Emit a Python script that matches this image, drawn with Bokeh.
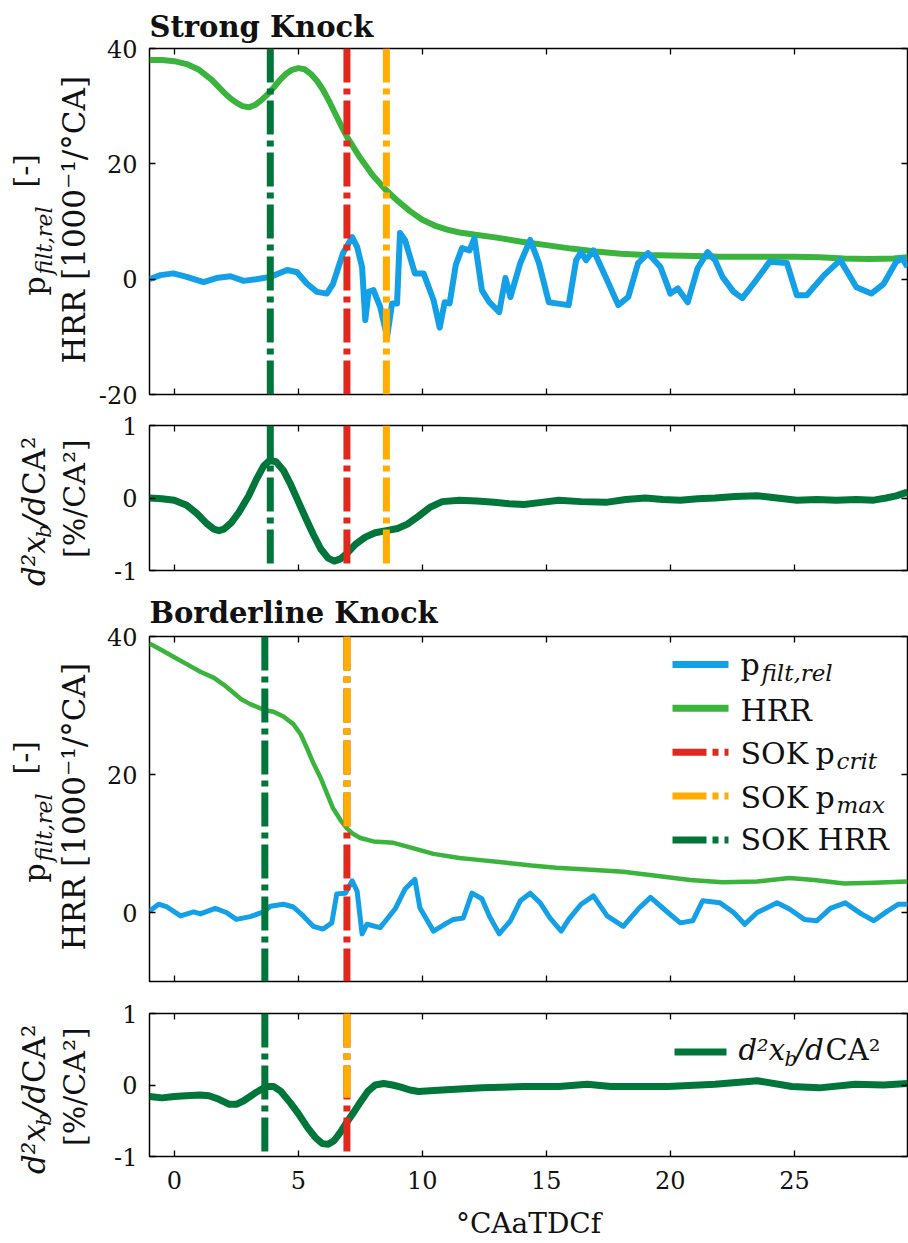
from math import pi
from bokeh.plotting import figure
from bokeh.models import Range1d, LinearAxis, FixedTicker, Label, Title
from bokeh.layouts import column, row
from bokeh.embed import file_html
from bokeh.resources import INLINE

# ---------------------------------------------------------------- data
x_ticks = [0, 5, 10, 15, 20, 25]
strong_y_ticks = [-20, 0, 20, 40]
border_y_ticks = [0, 20, 40]
d2_y_ticks = [-1, 0, 1]

# Strong knock: HRR
strong_hrr_x = [-1, -0.5, 0, 0.5, 1, 1.5, 2, 2.25, 2.5, 2.75, 3, 3.25, 3.5, 3.75, 4, 4.25,
                4.5, 4.75, 5, 5.25, 5.5, 5.75, 6, 6.25, 6.5, 6.75, 7, 7.5, 8, 8.5, 9, 9.5,
                10, 10.5, 11, 11.5, 12, 13, 14, 15, 16, 17, 18, 19, 20, 21, 22, 23, 24,
                25, 26, 27, 28, 29, 29.56]
strong_hrr_y = [38.0, 38.0, 37.8, 37.3, 36.3, 34.6, 32.4, 31.4, 30.6, 30.0, 29.8, 30.2, 31.0,
                32.0, 33.2, 34.5, 35.6, 36.3, 36.6, 36.4, 35.6, 34.4, 32.8, 30.8, 28.6, 26.4,
                24.4, 21.0, 18.0, 15.6, 13.6, 11.8, 10.3, 9.3, 8.6, 8.1, 7.8, 7.2, 6.5, 5.9,
                5.3, 4.8, 4.4, 4.2, 4.1, 4.0, 3.9, 3.9, 3.9, 3.9, 3.8, 3.6, 3.5, 3.6, 3.8]
# Strong knock: p_filt,rel
strong_p_x = [-1, -0.56, -0.04, 0.5, 1.18, 1.7, 2.26, 2.8, 3.3, 3.87, 4.55, 4.95, 5.35, 5.75,
              6.15, 6.4, 6.8, 7.17, 7.37, 7.57, 7.7, 7.83, 8.03, 8.3, 8.58, 8.78, 8.98, 9.1,
              9.3, 9.7, 10.05, 10.45, 10.7, 10.9, 11.1, 11.35, 11.6, 11.9, 12.1, 12.4, 12.7,
              13.1, 13.35, 13.55, 13.95, 14.35, 14.7, 15.1, 15.4, 15.9, 16.2, 16.4, 16.6,
              16.9, 17.45, 17.9, 18.3, 18.7, 19.1, 19.6, 20.0, 20.3, 20.7, 21.1, 21.5, 21.8,
              22.1, 22.55, 22.9, 23.35, 24.0, 24.7, 25.1, 25.5, 26.2, 26.85, 27.5, 28.1,
              28.6, 29.1, 29.35, 29.56]
strong_p_y = [0.0, 0.7, 1.0, 0.4, -0.5, 0.2, 0.5, -0.3, 0.0, 0.4, 1.6, 1.2, -0.8, -2.2, -2.5,
              -0.8, 4.5, 7.3, 5.6, 2.1, -7.1, -2.2, -1.9, -4.8, -10.0, -4.2, -4.2, 8.0, 6.8,
              1.0, 1.0, -3.6, -8.4, -4.0, -4.2, 2.5, 5.4, 5.0, 7.1, -1.9, -4.0, -5.7, 0.2,
              -3.1, 2.8, 6.8, 2.8, -4.0, -4.2, -4.5, 3.3, 4.7, 3.3, 5.0, -0.2, -4.5, -3.1,
              2.8, 4.5, 2.1, -2.5, -1.6, -4.0, 1.9, 4.7, 3.3, 0.4, -2.2, -3.3, -0.8, 3.0,
              2.8, -2.8, -2.8, 0.7, 3.3, -1.4, -2.5, -0.8, 3.0, 3.6, 2.1]
# Strong knock: d2xb/dCA2
strong_d2_x = [-1, -0.5, 0, 0.5, 0.9, 1.3, 1.6, 1.8, 2.0, 2.3, 2.6, 3.0, 3.3, 3.6, 3.85, 4.1,
               4.4, 4.7, 5.0, 5.3, 5.6, 5.9, 6.2, 6.45, 6.7, 6.97, 7.3, 7.7, 8.1, 8.55, 9.0,
               9.4, 9.85, 10.3, 10.8, 11.5, 12.2, 12.9, 13.5, 14.1, 14.8, 15.5, 16.4, 17.4,
               18.2, 19.0, 19.7, 20.4, 21.1, 21.8, 22.6, 23.5, 24.3, 25.1, 25.9, 26.7, 27.5,
               28.2, 28.7, 29.1, 29.56]
strong_d2_y = [0.0, -0.01, -0.03, -0.1, -0.21, -0.35, -0.43, -0.45, -0.43, -0.34, -0.2, 0.03,
               0.25, 0.44, 0.52, 0.5, 0.38, 0.18, -0.05, -0.28, -0.5, -0.7, -0.83, -0.87,
               -0.84, -0.76, -0.64, -0.54, -0.48, -0.45, -0.42, -0.36, -0.25, -0.13, -0.05,
               -0.03, -0.04, -0.06, -0.08, -0.09, -0.06, -0.03, -0.05, -0.06, -0.02, 0.0,
               -0.02, -0.03, -0.01, 0.0, 0.02, 0.03, 0.0, -0.03, -0.02, -0.03, -0.02, -0.03,
               0.0, 0.03, 0.08]

# Borderline knock: HRR
border_hrr_x = [-1, -0.5, 0, 0.5, 1.05, 1.6, 2.0, 2.4, 2.7, 3.06, 3.4, 3.67, 4.0, 4.4, 4.8,
                5.1, 5.35, 5.6, 5.9, 6.15, 6.4, 6.7, 6.96, 7.2, 7.5, 8.03, 8.84, 9.65, 10.45,
                11.5, 12.06, 13.4, 14.4, 15.4, 16.8, 18.1, 19.5, 20.8, 22.1, 23.5, 24.8, 25.8,
                27.0, 28.2, 29.56]
border_hrr_y = [39.0, 38.0, 37.0, 36.0, 34.9, 34.0, 33.0, 31.8, 30.9, 30.2, 29.7, 29.3, 29.1,
                28.4, 27.3, 25.8, 23.8, 21.7, 19.5, 17.3, 15.1, 13.4, 12.2, 11.4, 10.8, 10.3,
                10.1, 9.3, 8.5, 7.9, 7.7, 7.2, 6.8, 6.5, 6.2, 5.9, 5.3, 4.7, 4.4, 4.5, 5.0,
                4.7, 4.2, 4.3, 4.5]
# Borderline knock: p_filt,rel
border_p_x = [-1, -0.63, -0.29, 0.25, 0.78, 1.05, 1.65, 2.1, 2.5, 3.06, 3.6, 3.87, 4.4, 4.8,
              5.2, 5.6, 6.0, 6.35, 6.55, 6.9, 7.17, 7.37, 7.57, 7.77, 8.3, 8.9, 9.3, 9.7, 9.9,
              10.45, 11.0, 11.25, 11.65, 12.0, 12.4, 12.7, 13.1, 13.55, 13.95, 14.35, 14.75,
              15.15, 15.6, 15.9, 16.4, 16.9, 17.45, 18.1, 18.7, 19.2, 19.9, 20.4, 20.9, 21.3,
              22.0, 22.55, 23.0, 23.5, 24.3, 24.8, 25.4, 25.9, 26.45, 27.05, 27.7, 28.2,
              28.75, 29.2, 29.56]
border_p_y = [0.2, 1.2, 0.8, -0.5, 0.1, -0.2, 0.6, 0.0, -1.0, -0.6, 0.1, 0.9, 1.2, 0.8, -0.5,
              -2.0, -2.4, -1.5, 2.7, 2.8, 4.6, 3.1, -3.1, -1.7, -2.2, 0.5, 3.4, 4.8, 0.7,
              -2.7, -1.5, -1.0, -0.8, 2.8, 2.0, -0.5, -3.1, -1.2, 1.7, 2.8, 1.4, -0.8, -2.7,
              -1.0, 1.2, 2.4, -0.5, -2.0, 0.5, 2.2, 0.0, -1.5, -1.2, 1.7, 1.4, 0.0, -1.7, 0.0,
              1.4, 0.5, -1.0, -1.2, 0.6, 1.4, -0.2, -1.2, 0.2, 1.2, 1.2]
# Borderline knock: d2xb/dCA2
border_d2_x = [-1, -0.5, 0, 0.46, 1.04, 1.4, 1.8, 2.22, 2.5, 2.8, 3.27, 3.7, 4.0, 4.3, 4.68,
               5.0, 5.38, 5.7, 5.97, 6.2, 6.44, 6.7, 6.9, 7.2, 7.5, 7.8, 8.1, 8.44, 8.8, 9.14,
               9.5, 9.85, 10.3, 10.8, 12.4, 14.1, 15.5, 16.65, 17.6, 19.9, 21.8, 23.5, 24.9,
               26.0, 27.45, 28.6, 29.56]
border_d2_y = [-0.16, -0.18, -0.16, -0.15, -0.14, -0.15, -0.2, -0.27, -0.27, -0.22, -0.11,
               -0.02, -0.02, -0.09, -0.25, -0.4, -0.6, -0.74, -0.82, -0.83, -0.78, -0.66,
               -0.55, -0.4, -0.24, -0.09, 0.0, 0.02, 0.0, -0.03, -0.07, -0.09, -0.08, -0.07,
               -0.04, -0.02, -0.02, 0.01, -0.02, -0.02, 0.01, 0.06, -0.02, -0.04, 0.01, 0.0,
               0.02]

# start-of-knock markers, order: SOK HRR, SOK p_crit, SOK p_max
strong_sok = [3.87, 6.96, 8.55]
border_sok = [3.65, 6.96, 6.96]
border_pmax_stop_hrr = 12.3    # p_max marker in borderline HRR panel ends at HRR curve
border_pmax_stop_d2 = -0.18

# ---------------------------------------------------------------- style / layout
FONT = "DejaVu Serif"
TXT = "#111111"
BLUE = "#14a0e6"
GREEN = "#3ab43c"
DKGREEN = "#00763a"
RED = "#e0281e"
ORANGE = "#ffad00"
MARK_COLORS = [DKGREEN, RED, ORANGE]
DASH = "34 6 6 6"
K = 1.0 / 3.0                # baseline correction (fraction of font size)

TOTAL_W = 908
LW = 95                      # width of the strip holding the rotated axis titles
ML, MR = 54, 1
FIG_W = TOTAL_W - LW
FRAME_LEFT = LW + ML         # 149 on the page
FRAME_W = FIG_W - ML - MR    # 758
X0, X1 = -1.0, 29.56
XR = Range1d(X0, X1)

# frame top (page px), frame height, y-range; figure top (page px), figure height
S1 = dict(top=48, h=346, y0=-20, y1=40, ftop=0, fh=409)
S2 = dict(top=425, h=145, y0=-1, y1=1, ftop=409, fh=177)
S3 = dict(top=635, h=346, y0=-10, y1=40, ftop=586, fh=411)
S4 = dict(top=1013, h=145, y0=-1, y1=1, ftop=997, fh=245)
TOTAL_H = S4["ftop"] + S4["fh"]


def to_data(spec, px, py):
    x = X0 + (px - FRAME_LEFT) / FRAME_W * (X1 - X0)
    y = spec["y1"] - (py - spec["top"]) / spec["h"] * (spec["y1"] - spec["y0"])
    return x, y


def mklabel(x, y, text, size, style="normal", angle=0.0):
    return Label(x=x, y=y, text=text, angle=angle, text_font=FONT,
                 text_font_size=f"{size}px", text_font_style=style,
                 text_align="left", text_baseline="alphabetic", text_color=TXT)


def label(p, spec, px, base_y, text, size, style="normal"):
    x, y = to_data(spec, px, base_y - K * size)
    p.add_layout(mklabel(x, y, text, size, style))


# one tall blank strip on the left; its data space equals page pixels (y measured upward)
strip = figure(width=LW, height=TOTAL_H, x_range=Range1d(0, LW), y_range=Range1d(0, TOTAL_H),
               x_axis_type=None, y_axis_type=None, output_backend="svg",
               toolbar_location=None, min_border=0)
strip.outline_line_color = None
strip.background_fill_color = "white"
strip.border_fill_color = "white"


def rot(base_x, start_y, text, size, style="normal"):
    strip.add_layout(mklabel(base_x - K * size, TOTAL_H - start_y, text, size, style,
                             angle=pi / 2))


def style_axis(ax, show, standoff=12):
    ax.axis_line_color = None
    ax.major_tick_in = 6
    ax.major_tick_out = 0
    ax.major_tick_line_color = "black"
    ax.major_tick_line_width = 1.3
    ax.minor_tick_line_color = None
    if show:
        ax.major_label_text_font = FONT
        ax.major_label_text_font_size = "24px"
        ax.major_label_text_color = TXT
        ax.major_label_standoff = standoff
    else:
        ax.major_label_text_font_size = "0px"
        ax.major_label_standoff = 0


def make_fig(spec, yticks, show_x, title=None, title_standoff=9):
    bt = spec["top"] - spec["ftop"]
    bb = spec["fh"] - bt - spec["h"]
    p = figure(width=FIG_W, height=spec["fh"], x_range=XR,
               y_range=Range1d(spec["y0"], spec["y1"]),
               x_axis_type=None, y_axis_type=None, output_backend="svg",
               toolbar_location=None, min_border_left=ML, min_border_right=MR,
               min_border_top=bt, min_border_bottom=bb)
    p.outline_line_color = "black"
    p.outline_line_width = 1.5
    p.outline_line_alpha = 1.0
    p.background_fill_color = "white"
    p.border_fill_color = "white"
    if title:
        p.title = Title(text=title, align="left", text_font=FONT, text_font_size="29px",
                        text_font_style="bold", text_color=TXT, offset=0,
                        standoff=title_standoff)
    blank_x = {t: "" for t in x_ticks}
    blank_y = {t: "" for t in yticks}

    below = LinearAxis(ticker=FixedTicker(ticks=x_ticks))
    style_axis(below, show_x, standoff=14)
    if not show_x:
        below.major_label_overrides = blank_x
    p.add_layout(below, "below")

    above = LinearAxis(ticker=FixedTicker(ticks=x_ticks))
    style_axis(above, False)
    above.major_label_overrides = blank_x
    p.add_layout(above, "above")

    left = LinearAxis(ticker=FixedTicker(ticks=yticks))
    style_axis(left, True, standoff=12)
    left.major_label_overrides = {t: str(t) for t in yticks}
    p.add_layout(left, "left")

    right = LinearAxis(ticker=FixedTicker(ticks=yticks))
    style_axis(right, False)
    right.major_label_overrides = blank_y
    p.add_layout(right, "right")
    return p


def markers(p, xs, tops, bottoms):
    p.segment(x0=xs, y0=tops, x1=xs, y1=bottoms, line_color=MARK_COLORS,
              line_width=7, line_dash=DASH, line_cap="butt")


def ylabel_p_hrr(spec):
    cy = spec["top"] + spec["h"] / 2
    a = cy + 74
    rot(44, a, "p", 30)
    rot(51, a - 21, "filt,rel", 22, "italic")
    rot(34, a - 108, "[-]", 30)
    rot(84, cy + 142, "HRR [1000\u207b\u00b9/\u00b0CA]", 31)


def ylabel_d2(spec):
    cy = spec["top"] + spec["h"] / 2
    a = cy + 88
    rot(44, a, "d\u00b2x", 31, "italic")
    rot(50, a - 48, "b", 21, "italic")
    rot(44, a - 60, "/d", 31, "italic")
    rot(44, a - 91, "CA\u00b2", 31)
    rot(84, cy + 60, "[%/CA\u00b2]", 30)


# ---------------------------------------------------------------- panel 1
p1 = make_fig(S1, strong_y_ticks, False, "Strong Knock", 10)
p1.line(strong_hrr_x, strong_hrr_y, line_color=GREEN, line_width=6, line_join="round")
p1.line(strong_p_x, strong_p_y, line_color=BLUE, line_width=6, line_join="round")
markers(p1, strong_sok, [S1["y1"]] * 3, [S1["y0"]] * 3)
ylabel_p_hrr(S1)

# ---------------------------------------------------------------- panel 2
p2 = make_fig(S2, d2_y_ticks, False)
p2.line(strong_d2_x, strong_d2_y, line_color=DKGREEN, line_width=7, line_join="round")
markers(p2, strong_sok, [1, 1, 1], [-0.93, -0.93, -0.93])
ylabel_d2(S2)

# ---------------------------------------------------------------- panel 3
p3 = make_fig(S3, border_y_ticks, False, "Borderline Knock", 14)
p3.line(border_hrr_x, border_hrr_y, line_color=GREEN, line_width=4.5, line_join="round")
p3.line(border_p_x, border_p_y, line_color=BLUE, line_width=5, line_join="round")
markers(p3, border_sok, [40, 40, 40], [-10, -10, border_pmax_stop_hrr])
ylabel_p_hrr(S3)

# legend (panel 3)
leg_rows = [663, 707, 751, 795, 839]
leg_colors = [BLUE, GREEN, RED, ORANGE, DKGREEN]
for i, (ry, col) in enumerate(zip(leg_rows, leg_colors)):
    xa, ya = to_data(S3, 672, ry)
    xb, _ = to_data(S3, 728, ry)
    p3.segment(x0=[xa], y0=[ya], x1=[xb], y1=[ya], line_color=col, line_width=7,
               line_cap="butt", line_dash="solid" if i < 2 else DASH)
label(p3, S3, 740, leg_rows[0] + 10, "p", 30)
label(p3, S3, 761, leg_rows[0] + 16, "filt,rel", 23, style="italic")
label(p3, S3, 740, leg_rows[1] + 12, "HRR", 30)
label(p3, S3, 740, leg_rows[2] + 11, "SOK", 30)
label(p3, S3, 815, leg_rows[2] + 11, "p", 30)
label(p3, S3, 836, leg_rows[2] + 17, "crit", 23, style="italic")
label(p3, S3, 740, leg_rows[3] + 11, "SOK", 30)
label(p3, S3, 815, leg_rows[3] + 11, "p", 30)
label(p3, S3, 836, leg_rows[3] + 17, "max", 23, style="italic")
label(p3, S3, 740, leg_rows[4] + 10, "SOK HRR", 30)

# ---------------------------------------------------------------- panel 4
p4 = make_fig(S4, d2_y_ticks, True)
p4.line(border_d2_x, border_d2_y, line_color=DKGREEN, line_width=7, line_join="round")
markers(p4, border_sok, [1, 1, 1], [-0.95, -0.95, border_pmax_stop_d2])
ylabel_d2(S4)
ax4 = p4.below[0]
ax4.axis_label = "\u00b0CAaTDCf"
ax4.axis_label_text_font = FONT
ax4.axis_label_text_font_size = "28px"
ax4.axis_label_text_font_style = "normal"
ax4.axis_label_text_color = TXT
ax4.axis_label_standoff = 15

# legend (panel 4)
xa, ya = to_data(S4, 674, 1052)
xb, _ = to_data(S4, 726, 1052)
p4.segment(x0=[xa], y0=[ya], x1=[xb], y1=[ya], line_color=DKGREEN, line_width=7,
           line_cap="butt")
label(p4, S4, 738, 1060, "d\u00b2x", 29, style="italic")
label(p4, S4, 784, 1066, "b", 20, style="italic")
label(p4, S4, 795, 1060, "/d", 29, style="italic")
label(p4, S4, 825, 1060, "CA\u00b2", 29)

layout = row(strip, column(p1, p2, p3, p4))
open("out.html", "w").write(file_html(layout, INLINE))
